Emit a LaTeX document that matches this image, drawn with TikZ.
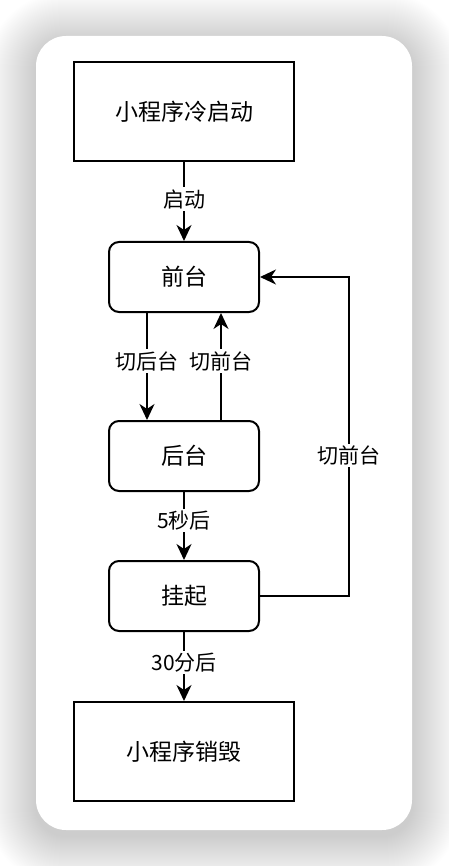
\documentclass[tikz,border=0pt]{standalone}
\usepackage{fontspec}
\setmainfont{Noto Sans CJK SC}
\usetikzlibrary{arrows.meta}
\begin{document}
\begin{tikzpicture}[x=1pt,y=-1pt,
  box/.style={draw, line width=2pt, minimum width=220pt, minimum height=99pt, inner sep=0pt, font=\fontsize{23}{27}\selectfont},
  rbox/.style={draw, line width=2pt, rounded corners=10pt, minimum width=150pt, minimum height=70pt, inner sep=0pt, font=\fontsize{23}{27}\selectfont},
  arr/.style={line width=2pt, -{Stealth[length=16pt, width=15pt, inset=5pt]}},
  lbl/.style={fill=white, inner sep=2pt, font=\fontsize{21}{25}\selectfont}
]
\useasboundingbox (0,0) rectangle (448,866);
\fill[white] (0,0) rectangle (448,866);
% shadow
\foreach \i in {1,...,50} {
  \pgfmathsetmacro{\r}{30+\i}
  \fill[black, opacity=0.0027, rounded corners=\r pt] (36-\i, 42-\i) rectangle (412+\i, 836+\i);
}
% card
\fill[white, rounded corners=30pt] (36,36) rectangle (412,830);

\node[box]  (start)   at (184,111.5) {小程序冷启动};
\node[rbox] (front)   at (184,277)   {前台};
\node[rbox] (back)    at (184,456)   {后台};
\node[rbox] (suspend) at (184,596)   {挂起};
\node[box]  (destroy) at (184,751.5) {小程序销毁};

\coordinate (bl) at (147,312);
\coordinate (br) at (221,421);
\coordinate (c1) at (349,596);
\coordinate (c2) at (349,277);

\draw[arr] (start) -- node[lbl, pos=0.47] {启动} (front);
\draw[arr] (front.south -| bl) -- node[lbl, pos=0.45] {切后台} (back.north -| bl);
\draw[arr] (back.north -| br) -- node[lbl, pos=0.55] {切前台} (front.south -| br);
\draw[arr] (back) -- node[lbl, pos=0.42] {5秒后} (suspend);
\draw[arr] (suspend) -- node[lbl, pos=0.44] {30分后} (destroy);
\draw[arr] (suspend.east) -- (c1) -- node[lbl, pos=0.44] {切前台} (c2) -- (front.east);
\end{tikzpicture}
\end{document}
